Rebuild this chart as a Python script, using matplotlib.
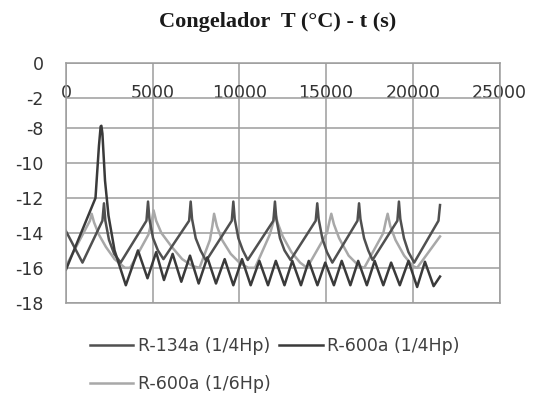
import numpy as np
import matplotlib
matplotlib.use('Agg')
import matplotlib.pyplot as plt

plt.rcParams['font.family'] = ['DejaVu Sans']

# Datos (tiempo en s, temperatura en C)
r134_t = [0, 950, 2100, 2190, 2270, 2480, 2780, 3150,
          4640, 4730, 4810, 5020, 5300, 5620,
          7100, 7190, 7270, 7480, 7760, 8080,
          9560, 9650, 9730, 9940, 10200, 10480,
          11960, 12050, 12130, 12340, 12600, 12950,
          14400, 14490, 14570, 14780, 15050, 15360,
          16810, 16900, 16980, 17190, 17430, 17680,
          19110, 19200, 19280, 19490, 19750, 20080,
          21480, 21570]
r134_T = [-13.9, -15.7, -13.3, -12.3, -13.3, -14.4, -15.2, -15.7,
          -13.3, -12.2, -13.2, -14.3, -15.0, -15.5,
          -13.3, -12.2, -13.2, -14.3, -15.0, -15.6,
          -13.3, -12.2, -13.2, -14.3, -15.0, -15.55,
          -13.3, -12.2, -13.2, -14.3, -15.0, -15.55,
          -13.3, -12.3, -13.2, -14.3, -15.1, -15.7,
          -13.3, -12.3, -13.2, -14.3, -15.0, -15.55,
          -13.3, -12.2, -13.2, -14.3, -15.1, -15.7,
          -13.3, -12.4]

r600_4_t = [0, 1700, 1900, 2000, 2040, 2100, 2250, 2450, 2800, 3450,
            4150, 4700, 5200, 5650, 6150, 6650, 7150, 7650, 8150, 8650,
            9150, 9650, 10150, 10650, 11150, 11650, 12100, 12600, 13050, 13550,
            14000, 14500, 14950, 15450, 15900, 16400, 16850, 17350, 17800, 18300,
            18750, 19250, 19750, 20250, 20700, 21200, 21570]
r600_4_T = [-16.1, -12.0, -9.0, -7.6, -7.5, -8.3, -11.0, -13.0, -15.0, -17.0,
            -15.0, -16.6, -15.1, -16.7, -15.2, -16.8, -15.3, -16.9, -15.4, -16.9,
            -15.5, -17.0, -15.5, -17.0, -15.6, -17.0, -15.6, -17.0, -15.6, -17.0,
            -15.6, -17.0, -15.7, -17.0, -15.6, -17.0, -15.6, -17.0, -15.6, -17.0,
            -15.7, -17.0, -15.6, -17.1, -15.65, -17.05, -16.5]

r600_6_t = [0, 1380, 1480, 1620, 1900, 2300, 2800, 3400, 3700,
            4750, 4950, 5050, 5200, 5500, 6100, 6700, 7300, 7700,
            8300, 8440, 8540, 8700, 9000, 9500, 10000, 10500, 10900,
            11750, 11950, 12050, 12200, 12500, 13000, 13500, 13900,
            15050, 15200, 15300, 15450, 15750, 16300, 16900, 17200,
            18300, 18450, 18550, 18700, 19000, 19500, 20000, 20250, 21570]
r600_6_T = [-15.9, -13.3, -12.9, -13.4, -14.1, -14.8, -15.5, -16.0, -16.0,
            -14.1, -13.3, -12.7, -13.3, -14.0, -14.8, -15.5, -15.9, -16.0,
            -14.4, -13.6, -12.9, -13.6, -14.4, -15.2, -15.7, -16.0, -16.0,
            -14.1, -13.4, -12.8, -13.4, -14.2, -15.1, -15.7, -16.0,
            -14.0, -13.3, -12.9, -13.5, -14.3, -15.3, -15.9, -16.0,
            -14.0, -13.3, -12.9, -13.6, -14.4, -15.3, -15.9, -16.0, -14.2]

series_labels = ['R-134a (1/4Hp)', 'R-600a (1/4Hp)', 'R-600a (1/6Hp)']
x_ticks = [0, 5000, 10000, 15000, 20000, 25000]
y_ticks = [0, -2, -8, -10, -12, -14, -16, -18]

# Eje Y original: el tramo de -2 a -8 esta comprimido
y_val = [-100, -8, -2, 0, 100]
y_pos = [-100, -8, -6.245, -4.27, 95.73]

def fwd(v):
    return np.interp(v, y_val, y_pos)

def inv(p):
    return np.interp(p, y_pos, y_val)

fig = plt.figure(figsize=(5.42, 3.95), dpi=100)
ax = fig.add_axes([66 / 542, 1 - 302.7 / 395, 433.5 / 542, 239.4 / 395])

l3, = ax.plot(r600_6_t, r600_6_T, color='#a8a8a8', lw=1.8, label=series_labels[2])
l1, = ax.plot(r134_t, r134_T, color='#505050', lw=1.8, label=series_labels[0])
l2, = ax.plot(r600_4_t, r600_4_T, color='#3a3a3a', lw=1.8, label=series_labels[1])

ax.set_yscale('function', functions=(fwd, inv))
ax.set_xlim(0, 25000)
ax.set_ylim(-18, 0)
ax.set_xticks(x_ticks)
ax.set_yticks(y_ticks)
ax.set_yticklabels([str(v) for v in y_ticks])
ax.set_xticklabels([str(v) for v in x_ticks])
ax.grid(True, color='#9c9c9c', lw=1.1)
ax.set_axisbelow(True)
for s in ax.spines.values():
    s.set_color('#9c9c9c')
    s.set_linewidth(1.1)

ax.tick_params(axis='y', length=0, pad=16, labelsize=12.5, labelcolor='#333333')
ax.tick_params(axis='x', length=0, labelsize=12.5, labelcolor='#333333',
               top=False, bottom=False, labeltop=True, labelbottom=False, pad=-28)

fig.text(0.513, 1 - 22 / 395, 'Congelador  T (°C) - t (s)', ha='center', va='center',
         family='Liberation Serif', fontweight='bold', fontsize=16, color='#1a1a1a')

fig.legend(handles=[l1, l3, l2], labels=[series_labels[0], series_labels[2], series_labels[1]],
           ncol=2, loc='upper left', bbox_to_anchor=(90 / 542, 1 - 337 / 395),
           frameon=False, fontsize=12.5, labelcolor='#404040',
           handlelength=2.5, handletextpad=0.25, columnspacing=0.5,
           labelspacing=1.15, borderpad=0, borderaxespad=0)

fig.savefig('out.png', dpi=100)
